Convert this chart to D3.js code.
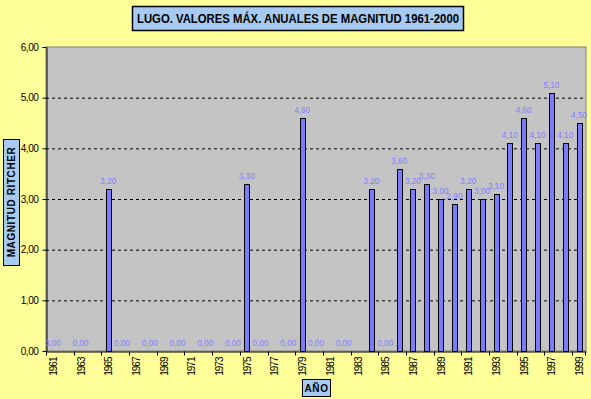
<!DOCTYPE html>
<html>
<head>
<meta charset="utf-8">
<script src="https://cdn.jsdelivr.net/npm/d3@7"></script>
<style>
  body { margin: 0; background: #ffff99; }
  text { font-family: "Liberation Sans", Arial, sans-serif; }
</style>
</head>
<body>
<div id="chart"></div>
<script>
// years on the category axis, 1961-1999
const years = [
  1961, 1962, 1963, 1964, 1965, 1966, 1967, 1968, 1969, 1970,
  1971, 1972, 1973, 1974, 1975, 1976, 1977, 1978, 1979, 1980,
  1981, 1982, 1983, 1984, 1985, 1986, 1987, 1988, 1989, 1990,
  1991, 1992, 1993, 1994, 1995, 1996, 1997, 1998, 1999,
];
// max magnitude per year (null = no value shown)
const magnitudes = [
  0, null, 0, null, 3.2, 0, null, 0, null, 0,
  null, 0, null, 0, 3.3, 0, null, 0, 4.6, 0,
  null, 0, null, 3.2, 0, 3.6, 3.2, 3.3, 3.0, 2.9,
  3.2, 3.0, 3.1, 4.1, 4.6, 4.1, 5.1, 4.1, 4.5,
];
const yTicks = [0, 1, 2, 3, 4, 5, 6];
const title = 'LUGO. VALORES MÁX. ANUALES DE MAGNITUD 1961-2000';
const yTitle = 'MAGNITUD RITCHER';
const xTitle = 'AÑO';

const W = 591, H = 399;
const margin = { top: 47, right: 5, bottom: 48, left: 46 };
const width = W - margin.left - margin.right;
const height = H - margin.top - margin.bottom;
const fmt = (v) => v.toFixed(2).replace('.', ',');

const svg = d3.select('#chart').append('svg')
  .attr('width', W).attr('height', H);

svg.append('rect').attr('width', W).attr('height', H).attr('fill', '#ffff99');

const g = svg.append('g')
  .attr('transform', `translate(${margin.left},${margin.top})`);

const x = d3.scaleBand().domain(years).range([0, width]);
const y = d3.scaleLinear().domain([0, 6]).range([height, 0]);

// plot area
g.append('rect')
  .attr('width', width).attr('height', height)
  .attr('fill', '#c4c4c4').attr('stroke', '#808080');

// dashed gridlines
g.selectAll('line.grid')
  .data(yTicks.filter((d) => d > 0 && d < 6))
  .enter().append('line')
  .attr('x1', 0).attr('x2', width)
  .attr('y1', (d) => y(d) + 0.5).attr('y2', (d) => y(d) + 0.5)
  .attr('stroke', '#000').attr('stroke-dasharray', '3,3');

// y axis
const yAxis = g.append('g')
  .attr('transform', 'translate(0.5,0)')
  .call(d3.axisLeft(y).tickValues(yTicks).tickFormat(fmt).tickSize(4).tickSizeOuter(0));
yAxis.selectAll('text').attr('font-size', 10).attr('fill', '#000')
  .attr('dx', -1).attr('letter-spacing', -0.4);
yAxis.selectAll('line,path').attr('stroke', '#000');
yAxis.attr('font-family', null);

// x axis
const xAxis = g.append('g')
  .attr('transform', `translate(0,${height + 0.5})`)
  .call(d3.axisBottom(x).tickSize(0).tickSizeOuter(0).tickFormat(''));
xAxis.select('path').attr('stroke', '#000');
xAxis.selectAll('.tick').remove();

const tickYears = years.filter((d, i) => i % 2 === 0);
xAxis.selectAll('line.tk')
  .data(tickYears.concat([years[years.length - 1]]))
  .enter().append('line')
  .attr('x1', (d, i) => i < tickYears.length ? Math.round(x(d)) + 0.5 : width - 0.5)
  .attr('x2', (d, i) => i < tickYears.length ? Math.round(x(d)) + 0.5 : width - 0.5)
  .attr('y1', 0).attr('y2', 4)
  .attr('stroke', '#000');

xAxis.selectAll('text.yr')
  .data(tickYears)
  .enter().append('text')
  .attr('transform', (d) => `translate(${x(d) + x.bandwidth() / 2 + 4},6) rotate(-90)`)
  .attr('text-anchor', 'end')
  .attr('font-size', 10)
  .attr('letter-spacing', -1)
  .attr('fill', '#000')
  .text((d) => d);

// bars
const data = years.map((yr, i) => ({ yr, v: magnitudes[i] }))
  .filter((d) => d.v !== null);
const barW = 5;

g.selectAll('rect.bar')
  .data(data.filter((d) => d.v > 0))
  .enter().append('rect')
  .attr('x', (d) => Math.round(x(d.yr) + x.bandwidth() / 2 - barW / 2) + 0.5)
  .attr('y', (d) => Math.round(y(d.v)) + 0.5)
  .attr('width', barW)
  .attr('height', (d) => height - Math.round(y(d.v)))
  .attr('fill', '#7b7bff')
  .attr('stroke', '#000');

g.selectAll('text.lbl')
  .data(data)
  .enter().append('text')
  .attr('x', (d) => x(d.yr) + x.bandwidth() / 2)
  .attr('y', (d) => y(d.v) - 5)
  .attr('text-anchor', 'middle')
  .attr('font-size', 9.5)
  .attr('textLength', 16)
  .attr('lengthAdjust', 'spacingAndGlyphs')
  .attr('fill', '#8080ff')
  .text((d) => fmt(d.v));

// title box
svg.append('rect')
  .attr('x', 132.5).attr('y', 6.5).attr('width', 331).attr('height', 24)
  .attr('fill', '#a6caf0').attr('stroke', '#000').attr('stroke-width', 1.5);
svg.append('text')
  .attr('x', 298).attr('y', 23)
  .attr('text-anchor', 'middle')
  .attr('font-size', 12.5).attr('font-weight', 'bold')
  .attr('textLength', 322)
  .attr('lengthAdjust', 'spacingAndGlyphs')
  .text(title);

// y title box
svg.append('rect')
  .attr('x', 3.5).attr('y', 139.5).attr('width', 16).attr('height', 126)
  .attr('fill', '#a6caf0').attr('stroke', '#000');
svg.append('text')
  .attr('transform', 'translate(15,202) rotate(-90)')
  .attr('text-anchor', 'middle')
  .attr('font-size', 10).attr('font-weight', 'bold')
  .attr('letter-spacing', 0.6)
  .text(yTitle);

// x title box
svg.append('rect')
  .attr('x', 302.5).attr('y', 379.5).attr('width', 28).attr('height', 17)
  .attr('fill', '#a6caf0').attr('stroke', '#000');
svg.append('text')
  .attr('x', 316.5).attr('y', 392)
  .attr('text-anchor', 'middle')
  .attr('font-size', 10).attr('font-weight', 'bold')
  .attr('letter-spacing', 0.6)
  .text(xTitle);
</script>
</body>
</html>
